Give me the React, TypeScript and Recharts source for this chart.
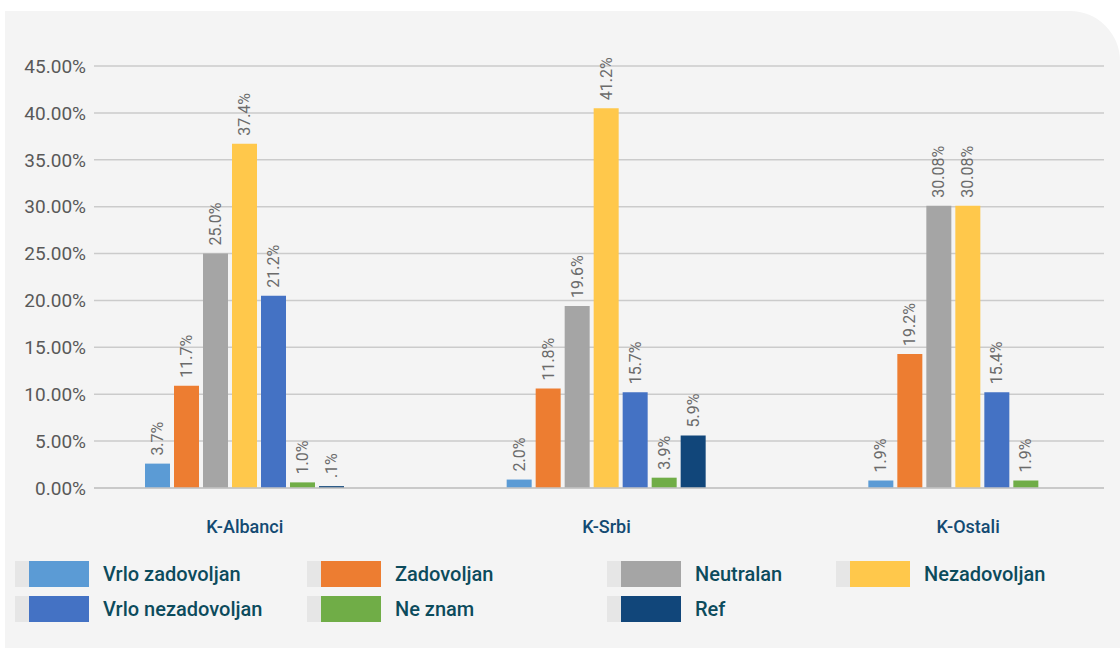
import { BarChart, Bar, XAxis, YAxis, CartesianGrid, LabelList } from 'recharts'

const categories = ['K-Albanci', 'K-Srbi', 'K-Ostali']

// bar heights as drawn (percent)
const vrloZadovoljan = [2.6, 0.9, 0.8]
const zadovoljan = [10.9, 10.6, 14.3]
const neutralan = [25.0, 19.4, 30.1]
const nezadovoljan = [36.7, 40.5, 30.1]
const vrloNezadovoljan = [20.5, 10.2, 10.2]
const neZnam = [0.6, 1.1, 0.8]
const refValues = [0.2, 5.6, null]

// labels printed above the bars
const vrloZadovoljanLabels = ['3.7%', '2.0%', '1.9%']
const zadovoljanLabels = ['11.7%', '11.8%', '19.2%']
const neutralanLabels = ['25.0%', '19.6%', '30.08%']
const nezadovoljanLabels = ['37.4%', '41.2%', '30.08%']
const vrloNezadovoljanLabels = ['21.2%', '15.7%', '15.4%']
const neZnamLabels = ['1.0%', '3.9%', '1.9%']
const refLabels = ['.1%', '5.9%', '']

const yTicks = [0, 5, 10, 15, 20, 25, 30, 35, 40, 45]

// note: a data key named "ref" ends up as a React ref on the bar, so keys are short codes
const series = [
  { key: 'vz', name: 'Vrlo zadovoljan', color: '#5b9bd5', values: vrloZadovoljan, labels: vrloZadovoljanLabels },
  { key: 'z', name: 'Zadovoljan', color: '#ed7d31', values: zadovoljan, labels: zadovoljanLabels },
  { key: 'n', name: 'Neutralan', color: '#a5a5a5', values: neutralan, labels: neutralanLabels },
  { key: 'nz', name: 'Nezadovoljan', color: '#ffc84b', values: nezadovoljan, labels: nezadovoljanLabels },
  { key: 'vn', name: 'Vrlo nezadovoljan', color: '#4472c4', values: vrloNezadovoljan, labels: vrloNezadovoljanLabels },
  { key: 'nzn', name: 'Ne znam', color: '#70ad47', values: neZnam, labels: neZnamLabels },
  { key: 'rf', name: 'Ref', color: '#11467a', values: refValues, labels: refLabels },
]

const chartData = categories.map((cat, i) => {
  const row: Record<string, string | number | null> = { cat }
  series.forEach((s) => {
    row[s.key] = s.values[i]
    row[s.key + 'Label'] = s.labels[i]
  })
  return row
})

const FONT = 'Roboto, "DejaVu Sans", sans-serif'

const renderLabel = (props: any) => {
  const { x, y, width, value } = props
  if (!value || x == null) return null
  const cx = Number(x) + Number(width) / 2
  const ty = Number(y) - 8
  return (
    <text
      x={cx}
      y={ty}
      transform={`rotate(-90, ${cx}, ${ty})`}
      textAnchor="start"
      dominantBaseline="central"
      fill="#6b6b6b"
      fontSize={16}
      fontFamily={FONT}
    >
      {value}
    </text>
  )
}

export default function App() {
  return (
    <div style={{ position: 'absolute', left: 0, top: 0, width: 1120, height: 648, background: '#fff', overflow: 'hidden', fontFamily: FONT }}>
      <div style={{ position: 'absolute', left: 5, top: 11, width: 1115, height: 637, background: '#f4f4f4', borderTopRightRadius: 50 }} />
      <div style={{ position: 'absolute', left: 0, top: 0 }}>
        <BarChart
          width={1120}
          height={648}
          data={chartData}
          margin={{ top: 66, right: 16, left: 0, bottom: 130 }}
          barSize={25}
          barGap={4}
        >
          <CartesianGrid vertical={false} stroke="#cbcbcb" strokeWidth={1.5} />
          <XAxis
            dataKey="cat"
            height={30}
            padding={{ left: -30, right: -45 }}
            tickLine={false}
            axisLine={{ stroke: '#c4c4c4', strokeWidth: 1.5 }}
            tickMargin={26}
            tick={{ fill: '#134a72', fontSize: 18, fontWeight: 500, fontFamily: FONT }}
          />
          <YAxis
            width={94}
            domain={[0, 45]}
            ticks={yTicks}
            tickLine={false}
            axisLine={false}
            tickSize={0}
            tickMargin={8}
            tickFormatter={(v: number) => `${v.toFixed(2)}%`}
            tick={{ fill: '#595959', fontSize: 19, fontFamily: FONT }}
          />
          {series.map((s) => (
            <Bar key={s.key} dataKey={s.key} name={s.name} fill={s.color} isAnimationActive={false}>
              <LabelList dataKey={s.key + 'Label'} content={renderLabel} />
            </Bar>
          ))}
        </BarChart>
      </div>
      <div
        style={{
          position: 'absolute',
          left: 15,
          top: 561,
          display: 'grid',
          gridTemplateColumns: '292px 300px 229px 260px',
          rowGap: 9,
        }}
      >
        {series.map((s) => (
          <div key={s.key} style={{ display: 'flex', alignItems: 'center', height: 26 }}>
            <div style={{ width: 14, height: 26, background: '#e6e6e6' }} />
            <div style={{ width: 60, height: 26, background: s.color }} />
            <span style={{ marginLeft: 14, fontSize: 20, fontWeight: 500, color: '#0c4b5c', whiteSpace: 'nowrap' }}>{s.name}</span>
          </div>
        ))}
      </div>
    </div>
  )
}
